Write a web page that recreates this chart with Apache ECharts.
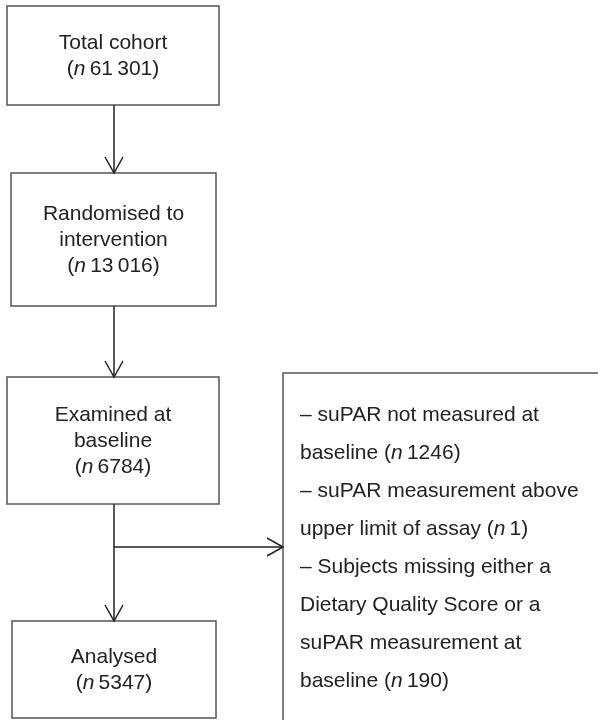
<!DOCTYPE html>
<html>
<head>
<meta charset="utf-8">
<script src="https://cdn.jsdelivr.net/npm/echarts@6/dist/echarts.min.js"></script>
<style>
html,body{margin:0;padding:0;background:#fff;}
#chart{width:598px;height:720px;}
</style>
</head>
<body>
<div id="chart"></div>
<script>
// ---- data ----
const stageLabels = ['Total cohort', 'Randomised to\nintervention', 'Examined at\nbaseline', 'Analysed'];
const stageCounts = ['61\u2009301', '13\u2009016', '6784', '5347'];
const exclusionLines = [
  ['– suPAR not measured at', ''],
  ['baseline (', '1246)'],
  ['– suPAR measurement above', ''],
  ['upper limit of assay (', '1)'],
  ['– Subjects missing either a', ''],
  ['Dietary Quality Score or a', ''],
  ['suPAR measurement at', ''],
  ['baseline (', '190)']
];

// ---- layout (positions in canvas units) ----
const boxLayout = [
  [7, 6, 219, 105],
  [11, 173, 216, 306],
  [7, 377, 219, 504],
  [12, 621, 216, 718]
];
const sideBox = [283, 373, 610, 730];
const arrowLayout = [
  [[114, 105], [114, 173]],
  [[114, 306], [114, 377]],
  [[114, 504], [114, 621]],
  [[114, 547], [283, 547]]
];

const FONT = 'Liberation Sans, Arial, sans-serif';
const TXT = '#222';

function stageText(i) {
  const parts = stageLabels[i].split('\n').map(s => '{t|' + s + '}');
  parts.push('{t|(}{i|n}{t|\u2009' + stageCounts[i] + ')}');
  return parts.join('\n');
}
function sideText() {
  return exclusionLines.map(([a, b]) => {
    if (!b) return '{t|' + a + '}';
    return '{t|' + a + '}{i|n}{t|\u2009' + b + '}';
  }).join('\n');
}

const chart = echarts.init(document.getElementById('chart'), null, {renderer: 'canvas'});

const boxData = boxLayout.map((b, i) => ({value: b, idx: i}));

chart.setOption({
  animation: false,
  backgroundColor: '#fff',
  grid: {left: 0, right: 0, top: 0, bottom: 0},
  xAxis: {type: 'value', min: 0, max: 598, show: false},
  yAxis: {type: 'value', min: 0, max: 720, inverse: true, show: false},
  series: [
    {
      type: 'custom',
      coordinateSystem: 'cartesian2d',
      data: boxLayout,
      silent: true,
      renderItem: function (params, api) {
        const p0 = api.coord([api.value(0), api.value(1)]);
        const p1 = api.coord([api.value(2), api.value(3)]);
        const i = params.dataIndex;
        return {
          type: 'group',
          children: [
            {
              type: 'rect',
              shape: {x: p0[0], y: p0[1], width: p1[0] - p0[0], height: p1[1] - p0[1]},
              style: {fill: '#fff', stroke: '#555', lineWidth: 1.5}
            },
            {
              type: 'text',
              style: {
                x: (p0[0] + p1[0]) / 2,
                y: (p0[1] + p1[1]) / 2 + 1,
                text: stageText(i),
                align: 'center',
                verticalAlign: 'middle',
                rich: {
                  t: {fontSize: 21, fontFamily: FONT, fill: TXT, lineHeight: 26},
                  i: {fontSize: 21, fontFamily: FONT, fill: TXT, lineHeight: 26, fontStyle: 'italic'}
                }
              }
            }
          ]
        };
      }
    },
    {
      type: 'custom',
      coordinateSystem: 'cartesian2d',
      data: [sideBox],
      silent: true,
      clip: false,
      renderItem: function (params, api) {
        const p0 = api.coord([api.value(0), api.value(1)]);
        const p1 = api.coord([api.value(2), api.value(3)]);
        return {
          type: 'group',
          children: [
            {
              type: 'rect',
              shape: {x: p0[0], y: p0[1], width: p1[0] - p0[0], height: p1[1] - p0[1]},
              style: {fill: '#fff', stroke: '#555', lineWidth: 1.5}
            },
            {
              type: 'text',
              style: {
                x: p0[0] + 17,
                y: p0[1] + 23,
                text: sideText(),
                align: 'left',
                verticalAlign: 'top',
                rich: {
                  t: {fontSize: 21, fontFamily: FONT, fill: TXT, lineHeight: 38},
                  i: {fontSize: 21, fontFamily: FONT, fill: TXT, lineHeight: 38, fontStyle: 'italic'}
                }
              }
            }
          ]
        };
      }
    },
    {
      type: 'custom',
      coordinateSystem: 'cartesian2d',
      data: arrowLayout.map(a => [a[0][0], a[0][1], a[1][0], a[1][1]]),
      silent: true,
      z: 5,
      renderItem: function (params, api) {
        const a = api.coord([api.value(0), api.value(1)]);
        const b = api.coord([api.value(2), api.value(3)]);
        const dx = b[0] - a[0], dy = b[1] - a[1];
        const len = Math.sqrt(dx * dx + dy * dy);
        const ux = dx / len, uy = dy / len;
        const L = 16, W = 9;
        const bx = b[0] - ux * L, by = b[1] - uy * L;
        const h1 = [bx - uy * W, by + ux * W];
        const h2 = [bx + uy * W, by - ux * W];
        const style = {stroke: '#222', lineWidth: 1.5, fill: 'none'};
        return {
          type: 'group',
          children: [
            {type: 'polyline', shape: {points: [a, b]}, style: style},
            {type: 'polyline', shape: {points: [h1, b, h2]}, style: style}
          ]
        };
      }
    }
  ]
});
</script>
</body>
</html>
